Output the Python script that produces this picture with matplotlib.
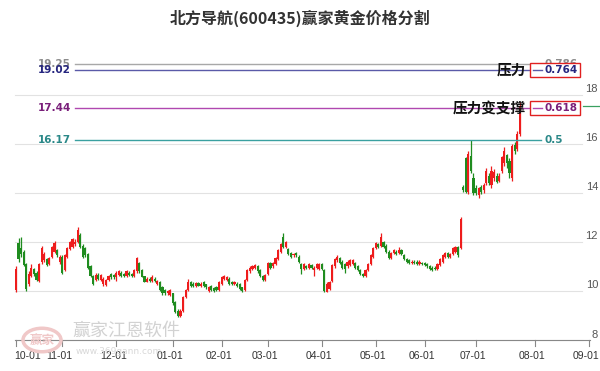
import matplotlib
matplotlib.use("Agg")
import matplotlib.pyplot as plt
from matplotlib.patches import Rectangle, Circle

plt.rcParams['font.family'] = ['Noto Sans CJK SC', 'DejaVu Sans']

title = '北方导航(600435)赢家黄金价格分割'

# daily candles (trading-day index 0 = first session of October)
opens = [10.05, 11.95, 11.75, 11.6, 11.1, 10.3, 10.6, 10.9, 10.75, 10.4,
         11.2, 11.25, 11.3, 11.1, 11.4, 11.6, 11.65, 11.2, 11.4, 10.85,
         11.4, 11.7, 11.8, 11.9, 12.0, 12.3, 11.85, 11.75, 11.5, 11.0,
         10.6, 10.45, 10.65, 10.45, 10.3, 10.25, 10.45, 10.7, 10.65, 10.55,
         10.65, 10.75, 10.7, 10.6, 10.75, 10.68, 10.6, 10.8, 11.15, 10.85,
         10.6, 10.38, 10.5, 10.4, 10.5, 10.3, 10.38, 10.18, 10.05, 9.9,
         9.85, 9.9, 9.55, 9.2, 9.0, 9.2, 9.75, 10.05, 10.35, 10.3,
         10.2, 10.32, 10.2, 10.38, 10.28, 10.0, 10.2, 10.12, 10.18, 10.05,
         10.3, 10.5, 10.45, 10.5, 10.38, 10.3, 10.3, 10.3, 10.15, 10.04,
         10.45, 10.8, 10.9, 10.95, 11.0, 10.85, 10.6, 10.45, 10.7, 11.15,
         11.0, 11.1, 11.3, 11.6, 12.2, 11.8, 11.7, 11.55, 11.45, 11.55,
         11.4, 11.1, 10.9, 11.0, 10.95, 11.05, 10.85, 10.95, 10.9, 11.1,
         10.85, 9.97, 10.1, 10.4, 11.0, 11.25, 11.35, 11.2, 11.1, 11.0,
         11.05, 11.1, 11.15, 11.0, 10.85, 10.7, 10.6, 10.85, 11.1, 11.4,
         11.75, 11.9, 11.85, 12.0, 11.85, 11.6, 11.35, 11.55, 11.6, 11.55,
         11.65, 11.45, 11.3, 11.25, 11.15, 11.2, 11.2, 11.1, 11.15, 11.15,
         11.1, 11.0, 10.95, 10.95, 10.9, 11.05, 11.2, 11.4, 11.55, 11.4,
         11.5, 11.6, 11.8, 11.75, 14.25, 15.4, 14.05, 15.5, 14.6, 14.2,
         13.9, 14.25, 14.1, 14.4, 14.7, 14.3, 14.6, 14.7, 14.5, 14.9,
         15.2, 15.55, 15.3, 14.6, 15.95, 15.8, 16.4]
closes = [10.9, 11.3, 11.5, 11.05, 10.1, 10.7, 10.95, 10.7, 10.45, 11.1,
          11.75, 11.5, 11.05, 11.35, 11.8, 11.95, 11.45, 11.4, 10.75, 11.45,
          11.75, 12.0, 12.1, 12.0, 12.5, 11.8, 11.4, 11.45, 10.95, 10.6,
          10.3, 10.65, 10.5, 10.65, 10.5, 10.45, 10.6, 10.55, 10.55, 10.75,
          10.8, 10.6, 10.6, 10.8, 10.65, 10.6, 10.85, 11.35, 10.8, 10.58,
          10.38, 10.5, 10.4, 10.58, 10.4, 10.42, 10.05, 9.9, 9.9, 10.0,
          10.05, 9.5, 9.15, 9.0, 9.2, 9.75, 10.05, 10.35, 10.2, 10.2,
          10.32, 10.22, 10.3, 10.2, 10.15, 10.15, 10.05, 10.0, 10.04, 10.35,
          10.55, 10.6, 10.55, 10.3, 10.3, 10.38, 10.2, 10.1, 9.98, 10.45,
          10.85, 10.95, 11.0, 11.05, 10.8, 10.6, 10.45, 10.65, 11.15, 10.95,
          11.15, 11.35, 11.65, 11.9, 11.8, 12.0, 11.5, 11.4, 11.5, 11.45,
          11.2, 10.9, 11.1, 10.95, 11.1, 10.95, 10.95, 11.1, 11.1, 10.9,
          10.0, 10.3, 10.35, 11.05, 11.3, 11.4, 11.15, 10.95, 10.9, 11.2,
          11.25, 11.25, 10.95, 10.85, 10.7, 10.6, 10.85, 11.1, 11.45, 11.75,
          11.95, 11.8, 12.2, 11.8, 11.6, 11.35, 11.55, 11.65, 11.5, 11.65,
          11.5, 11.3, 11.2, 11.15, 11.2, 11.15, 11.1, 11.2, 11.1, 11.05,
          11.0, 10.9, 10.85, 10.9, 11.1, 11.3, 11.45, 11.55, 11.4, 11.5,
          11.75, 11.8, 11.45, 12.95, 14.12, 14.05, 15.6, 14.9, 14.0, 14.0,
          14.2, 14.05, 14.3, 14.9, 14.4, 14.9, 14.85, 14.45, 14.7, 15.45,
          15.7, 15.2, 14.8, 15.9, 15.7, 16.4, 17.55]
highs = [11.0, 12.15, 12.2, 11.65, 11.15, 10.8, 11.1, 10.95, 10.8, 11.15,
         11.85, 11.6, 11.35, 11.4, 11.85, 12.05, 11.7, 11.45, 11.45, 11.5,
         11.8, 12.05, 12.15, 12.1, 12.62, 12.35, 11.9, 11.8, 11.55, 11.05,
         10.65, 10.75, 10.75, 10.7, 10.55, 10.5, 10.65, 10.75, 10.7, 10.8,
         10.85, 10.8, 10.75, 10.85, 10.8, 10.72, 10.9, 11.4, 11.2, 10.9,
         10.62, 10.55, 10.55, 10.65, 10.55, 10.45, 10.4, 10.2, 10.1, 10.05,
         10.1, 9.92, 9.6, 9.25, 9.25, 9.8, 10.1, 10.5, 10.4, 10.35,
         10.35, 10.35, 10.35, 10.4, 10.3, 10.2, 10.25, 10.15, 10.2, 10.4,
         10.6, 10.65, 10.6, 10.55, 10.42, 10.42, 10.35, 10.32, 10.18, 10.5,
         10.9, 11.0, 11.05, 11.1, 11.05, 10.9, 10.65, 10.7, 11.2, 11.2,
         11.2, 11.4, 11.7, 11.95, 12.35, 12.05, 11.75, 11.6, 11.55, 11.6,
         11.45, 11.15, 11.15, 11.05, 11.15, 11.1, 11.0, 11.15, 11.15, 11.15,
         10.9, 10.35, 10.4, 11.1, 11.35, 11.47, 11.4, 11.25, 11.15, 11.25,
         11.3, 11.3, 11.2, 11.05, 10.9, 10.75, 10.9, 11.15, 11.5, 11.8,
         12.0, 11.95, 12.35, 12.05, 11.9, 11.65, 11.6, 11.7, 11.65, 11.8,
         11.7, 11.5, 11.35, 11.3, 11.25, 11.25, 11.25, 11.25, 11.2, 11.2,
         11.15, 11.05, 11.0, 11.0, 11.15, 11.35, 11.5, 11.6, 11.6, 11.55,
         11.8, 11.85, 11.85, 13.0, 14.3, 15.45, 15.7, 16.15, 14.8, 14.3,
         14.25, 14.3, 14.4, 15.0, 14.8, 15.1, 14.95, 14.8, 14.8, 15.5,
         15.85, 15.6, 15.4, 16.0, 16.05, 16.5, 17.7]
lows = [9.95, 11.2, 11.4, 11.0, 10.0, 10.2, 10.55, 10.6, 10.4, 10.35,
        11.1, 11.2, 11.0, 11.05, 11.35, 11.55, 11.4, 11.1, 10.7, 10.8,
        11.35, 11.65, 11.75, 11.85, 11.95, 11.75, 11.35, 11.4, 10.9, 10.55,
        10.25, 10.4, 10.45, 10.4, 10.2, 10.2, 10.4, 10.5, 10.5, 10.4,
        10.6, 10.55, 10.55, 10.55, 10.6, 10.55, 10.55, 10.75, 10.75, 10.55,
        10.35, 10.35, 10.35, 10.35, 10.35, 10.25, 10.0, 9.85, 9.85, 9.85,
        9.8, 9.45, 9.1, 8.95, 8.95, 9.15, 9.7, 10.0, 10.15, 10.15,
        10.15, 10.2, 10.15, 10.15, 10.1, 9.95, 10.0, 9.95, 10.0, 10.0,
        10.25, 10.45, 10.4, 10.25, 10.25, 10.25, 10.15, 10.05, 9.95, 10.0,
        10.4, 10.75, 10.85, 10.9, 10.75, 10.55, 10.4, 10.4, 10.65, 10.9,
        10.95, 11.05, 11.25, 11.55, 11.75, 11.75, 11.45, 11.35, 11.4, 11.4,
        11.15, 10.7, 10.85, 10.9, 10.9, 10.9, 10.6, 10.9, 10.85, 10.85,
        9.95, 9.95, 10.05, 10.35, 10.95, 11.2, 11.1, 10.9, 10.75, 10.95,
        11.0, 11.05, 10.9, 10.8, 10.65, 10.55, 10.55, 10.8, 11.05, 11.35,
        11.7, 11.75, 11.8, 11.75, 11.55, 11.3, 11.3, 11.5, 11.45, 11.5,
        11.45, 11.25, 11.15, 11.1, 11.1, 11.1, 11.05, 11.05, 11.05, 11.0,
        10.95, 10.85, 10.8, 10.85, 10.85, 11.0, 11.15, 11.35, 11.35, 11.35,
        11.45, 11.55, 11.4, 11.7, 14.05, 14.0, 13.95, 14.8, 13.9, 13.9,
        13.8, 13.95, 14.0, 14.3, 14.3, 14.2, 14.5, 14.4, 14.45, 14.8,
        15.1, 15.0, 14.6, 14.5, 15.6, 15.7, 16.3]

# month ticks: trading-day index of the first session of each month
month_labels = ['10-01', '11-01', '12-01', '01-01', '02-01', '03-01',
                '04-01', '05-01', '06-01', '07-01', '08-01', '09-01']
month_index = [0, 18, 39, 61, 80, 98, 119, 140, 159, 179, 202, 223]

price_ticks = [8, 10, 12, 14, 16, 18]

# golden-section levels
level_values = [19.25, 19.02, 17.44, 16.17]
level_ratios = ['0.786', '0.764', '0.618', '0.5']
level_notes = ['', '压力', '压力变支撑', '']
level_line_colors = ['#a8a8a8', '#5a5aa8', '#b048b0', '#3aa0a0']
level_text_colors = ['#8c8c8c', '#262680', '#7a1f7a', '#2a8888']
level_boxed = [False, True, True, False]

UP = '#ee1c1c'
DOWN = '#1f8c1f'

W, H = 600, 371
fig = plt.figure(figsize=(W / 100, H / 100), dpi=100)
ax = fig.add_axes([0, 0, 1, 1])

# pixel <-> data helpers for the layout (x: trading-day index, y: price)
X0, DX = 16.0, 2.57
Y10, DY = 291.0, 24.55


def px_x(p):
    return (p - X0) / DX


def px_y(p):
    return 10 + (Y10 - p) / DY


ax.set_xlim(px_x(0), px_x(W))
ax.set_ylim(px_y(H), px_y(0))
ax.set_axis_off()

# horizontal grid and price labels on the right
for t in price_ticks:
    ax.plot([px_x(15), px_x(582)], [t, t], color='#e2e2e2', lw=0.8, zorder=1)
    ax.text(px_x(598), t + 5.5 / DY, str(t), ha='right', va='center',
            fontsize=8, color='#555555', family=['Liberation Sans'])

# bottom axis with month ticks
ax.plot([px_x(15), px_x(590)], [8, 8], color='#888888', lw=0.8, zorder=2)
for idx, lab in zip(month_index, month_labels):
    ax.plot([idx, idx], [8, 8 - 6 / DY], color='#888888', lw=0.8, zorder=2)
    if idx == 0:
        ax.text(px_x(14), 8 - 11 / DY, lab, ha='left', va='top', fontsize=7.5,
                color='#333333', family=['Liberation Sans'])
    else:
        ax.text(idx - 1.2, 8 - 11 / DY, lab, ha='center', va='top', fontsize=7.5,
                color='#333333', family=['Liberation Sans'])

# candles
for i, (o, c, h, l) in enumerate(zip(opens, closes, highs, lows)):
    col = UP if c >= o else DOWN
    ax.plot([i, i], [l, h], color=col, lw=0.9, zorder=3, solid_capstyle='butt')
    bottom = min(o, c)
    height = max(abs(c - o), 0.04)
    ax.add_patch(Rectangle((i - 0.42, bottom), 0.84, height, facecolor=col,
                           edgecolor='none', zorder=4))

# golden-section lines and their labels
for v, r, note, lc, tc, boxed in zip(level_values, level_ratios, level_notes,
                                     level_line_colors, level_text_colors,
                                     level_boxed):
    ax.plot([px_x(75), px_x(541)], [v, v], color=lc, lw=1.0, zorder=5)
    ax.text(px_x(71), v, f'{v:.2f}', ha='right', va='center', fontsize=7.5,
            fontweight='bold', color=tc, family=['DejaVu Sans'], zorder=6)
    if boxed:
        ax.add_patch(Rectangle((px_x(530), v - 7 / DY), (580 - 530) / DX,
                               14 / DY, facecolor='white', edgecolor='#e02020',
                               lw=1.0, zorder=7))
        ax.plot([px_x(533), px_x(542)], [v, v], color=lc, lw=1.0, zorder=8)
        ax.text(px_x(545), v, r, ha='left', va='center', fontsize=7.5,
                fontweight='bold', color=tc, family=['DejaVu Sans'], zorder=8)
        ax.text(px_x(526), v, note, ha='right', va='center', fontsize=10.5,
                fontweight='bold', color='#111111', zorder=9)
    else:
        ax.text(px_x(545), v, r, ha='left', va='center', fontsize=7.5,
                fontweight='bold', color=tc, family=['DejaVu Sans'], zorder=6)

# short marker of the latest price at the right edge
ax.plot([px_x(583), px_x(600)], [closes[-1], closes[-1]], color='#3aa060',
        lw=0.9, zorder=5)

# faint watermark
logo = Circle((42 / W, 1 - 340 / H), 19 / W, transform=fig.transFigure,
              facecolor='none', edgecolor='#f0c8c8', lw=2.5, zorder=2)
fig.patches.append(logo)
fig.text(42 / W, 1 - 340 / H, '赢家', ha='center', va='center', fontsize=9,
         color='#f0c8c8', fontweight='bold')
fig.text(72 / W, 1 - 331 / H, '赢家江恩软件', ha='left', va='center',
         fontsize=13, color='#d2d2d2')
fig.text(76 / W, 1 - 352 / H, 'www.369gann.com', ha='left', va='center',
         fontsize=6.5, color='#d8d8d8', family=['DejaVu Sans'])

fig.text(0.5, 1 - 18 / H, title, ha='center', va='center', fontsize=11.5,
         fontweight='bold', color='#333333')

fig.savefig('out.png', dpi=100)
